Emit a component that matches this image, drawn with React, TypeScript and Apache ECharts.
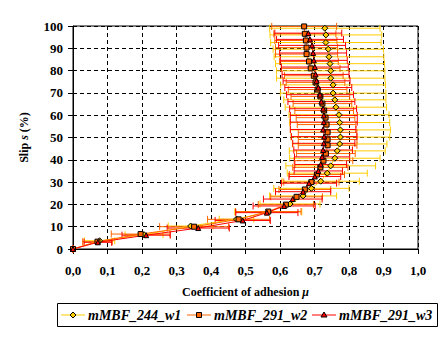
import React, { useEffect, useRef } from 'react';
import * as echarts from 'echarts';

const seriesNames = ['mMBF_244_w1', 'mMBF_291_w2', 'mMBF_291_w3'];
const seriesColors = ['#FFCC00', '#FF6600', '#FF0000'];
const seriesSymbols = ['diamond', 'rect', 'triangle'];

const slipW1 = [0, 3.7, 6.4, 10.3, 13.4, 16.6, 20.2, 23.8, 27.2, 30.4, 34.0, 37.3, 40.7, 44.0, 47.1, 50.2, 53.4, 56.7, 60.2, 63.6, 66.9, 69.9, 73.6, 76.6, 79.9, 83.1, 86.2, 89.6, 92.6, 96.0, 99.0];
const muW1 = [0, 0.077, 0.206, 0.341, 0.474, 0.566, 0.629, 0.667, 0.691, 0.718, 0.737, 0.747, 0.759, 0.766, 0.773, 0.775, 0.775, 0.773, 0.771, 0.762, 0.759, 0.754, 0.754, 0.747, 0.747, 0.745, 0.742, 0.740, 0.733, 0.733, 0.730];
const errW1 = [0, 0.044, 0.055, 0.065, 0.05, 0.097, 0.087, 0.097, 0.109, 0.112, 0.116, 0.13, 0.131, 0.139, 0.137, 0.143, 0.145, 0.145, 0.145, 0.147, 0.148, 0.153, 0.152, 0.157, 0.157, 0.158, 0.159, 0.160, 0.160, 0.162, 0.160];

const slipW2 = [0, 3.3, 6.7, 10, 13.3, 16.8, 19.9, 23.4, 26.7, 30, 33.4, 36.6, 39.6, 42.8, 46.5, 49.1, 52.3, 55.8, 58.9, 62.1, 65.2, 68.4, 71.5, 74.7, 77.7, 81.0, 84.1, 87.4, 90.3, 93.5, 96.5, 99.8];
const muW2 = [0, 0.071, 0.196, 0.351, 0.480, 0.566, 0.617, 0.648, 0.672, 0.691, 0.707, 0.717, 0.726, 0.733, 0.738, 0.738, 0.738, 0.735, 0.732, 0.728, 0.723, 0.717, 0.709, 0.703, 0.698, 0.689, 0.684, 0.677, 0.677, 0.675, 0.672, 0.670];
const errW2 = [0, 0.043, 0.085, 0.10, 0.09, 0.095, 0.08, 0.075, 0.075, 0.08, 0.08, 0.08, 0.085, 0.085, 0.085, 0.085, 0.085, 0.085, 0.085, 0.085, 0.085, 0.085, 0.085, 0.085, 0.085, 0.085, 0.085, 0.09, 0.09, 0.09, 0.09, 0.094];

const slipW3 = [0, 3.0, 6.2, 9.4, 12.8, 16.3, 19.3, 22.4, 25.7, 29.5, 32.5, 35.0, 37.9, 41.3, 44.4, 47.4, 50.4, 53.6, 56.9, 59.9, 62.9, 66.1, 69.2, 72.4, 75.4, 78.3, 81.6, 84.6, 87.9, 91.3, 94.0, 96.8];
const muW3 = [0, 0.072, 0.212, 0.363, 0.492, 0.562, 0.612, 0.637, 0.667, 0.684, 0.701, 0.711, 0.718, 0.722, 0.725, 0.727, 0.728, 0.725, 0.727, 0.727, 0.725, 0.720, 0.716, 0.711, 0.706, 0.703, 0.701, 0.698, 0.696, 0.693, 0.687, 0.682];
const errW3 = [0, 0.04, 0.07, 0.09, 0.08, 0.09, 0.09, 0.085, 0.08, 0.08, 0.075, 0.07, 0.075, 0.08, 0.085, 0.09, 0.095, 0.095, 0.097, 0.097, 0.097, 0.097, 0.097, 0.097, 0.097, 0.097, 0.097, 0.097, 0.097, 0.097, 0.097, 0.097];

const allSlip = [slipW1, slipW2, slipW3];
const allMu = [muW1, muW2, muW3];
const allErr = [errW1, errW2, errW3];

const FONT = '"Liberation Serif", "Times New Roman", serif';

function legendMarker(i: number, cx: number, cy: number): any {
  const style = { fill: seriesColors[i], stroke: '#000', lineWidth: 1 };
  if (i === 0) {
    return { type: 'polygon', shape: { points: [[cx, cy - 3], [cx + 3, cy], [cx, cy + 3], [cx - 3, cy]] }, style };
  }
  if (i === 1) {
    return { type: 'rect', shape: { x: cx - 2.5, y: cy - 2.5, width: 5, height: 5 }, style };
  }
  return { type: 'polygon', shape: { points: [[cx, cy - 3], [cx + 3, cy + 2], [cx - 3, cy + 2]] }, style };
}

export default function App() {
  const ref = useRef<HTMLDivElement>(null);
  useEffect(() => {
    if (!ref.current) return;
    const chart = echarts.init(ref.current, undefined, { renderer: 'svg' });
    const series: any[] = [];
    seriesNames.forEach((name, i) => {
      const color = seriesColors[i];
      series.push({
        type: 'custom',
        name: name + ' error',
        z: 1,
        encode: { x: 0, y: 1 },
        data: allMu[i].map((m, k) => [m, allSlip[i][k], allErr[i][k]]),
        renderItem: (params: any, api: any) => {
          const m = api.value(0), s = api.value(1), e = api.value(2);
          const l = api.coord([m - e, s]);
          const r = api.coord([m + e, s]);
          const h = 3.5;
          const st = { stroke: color, lineWidth: 1 };
          return {
            type: 'group',
            children: [
              { type: 'line', shape: { x1: l[0], y1: l[1], x2: r[0], y2: r[1] }, style: st },
              { type: 'line', shape: { x1: l[0], y1: l[1] - h, x2: l[0], y2: l[1] + h }, style: st },
              { type: 'line', shape: { x1: r[0], y1: r[1] - h, x2: r[0], y2: r[1] + h }, style: st },
            ],
          };
        },
      });
    });
    seriesNames.forEach((name, i) => {
      series.push({
        type: 'line',
        name,
        z: 3,
        data: allMu[i].map((m, k) => [m, allSlip[i][k]]),
        symbol: seriesSymbols[i],
        symbolSize: i === 0 ? 6 : 5,
        showSymbol: true,
        lineStyle: { color: seriesColors[i], width: 1 },
        itemStyle: { color: seriesColors[i], borderColor: '#000', borderWidth: 1 },
        emphasis: { disabled: true },
      });
    });

    // legend box drawn as graphic
    const lx = [61, 187, 312];
    const legendChildren: any[] = [
      { type: 'rect', shape: { x: 57.5, y: 303.5, width: 380, height: 23 }, style: { fill: '#fff', stroke: '#000', lineWidth: 1 } },
    ];
    seriesNames.forEach((name, i) => {
      const x0 = lx[i];
      const cy = 315;
      legendChildren.push({ type: 'line', shape: { x1: x0, y1: cy, x2: x0 + 24, y2: cy }, style: { stroke: seriesColors[i], lineWidth: 1 } });
      legendChildren.push(legendMarker(i, x0 + 12, cy));
      legendChildren.push({
        type: 'text', x: x0 + 27, y: cy,
        style: {
          text: name, fill: '#000', font: `italic bold 14px ${FONT}`,
          textVerticalAlign: 'middle', verticalAlign: 'middle', textAlign: 'left', align: 'left',
        },
      });
    });

    chart.setOption({
      animation: false,
      backgroundColor: '#fff',
      grid: {
        left: 73, top: 26, right: 26, bottom: 99,
        show: true, borderColor: '#000', borderWidth: 1, backgroundColor: 'transparent',
      },
      xAxis: {
        type: 'value', min: 0, max: 1, interval: 0.1,
        name: '{b|Coefficient of adhesion }{i|μ}',
        nameLocation: 'middle', nameGap: 37,
        nameTextStyle: {
          rich: {
            b: { fontFamily: FONT, fontWeight: 'bold', fontSize: 12, color: '#000' },
            i: { fontFamily: FONT, fontWeight: 'bold', fontStyle: 'italic', fontSize: 12, color: '#000' },
          },
        },
        axisLine: { show: true, lineStyle: { color: '#000', width: 1 } },
        axisTick: { show: true, length: 5, lineStyle: { color: '#000' } },
        axisLabel: {
          margin: 15, color: '#000', fontFamily: FONT, fontWeight: 'bold', fontSize: 13,
          formatter: (v: number) => v.toFixed(1).replace('.', ','),
        },
        splitLine: { show: true, lineStyle: { color: '#000', type: [4, 3], width: 1 } },
      },
      yAxis: {
        type: 'value', min: 0, max: 100, interval: 10,
        name: '{b|Slip }{i|s}{b| (%)}',
        nameLocation: 'middle', nameGap: 43, nameRotate: 90,
        nameTextStyle: {
          rich: {
            b: { fontFamily: FONT, fontWeight: 'bold', fontSize: 12, color: '#000' },
            i: { fontFamily: FONT, fontWeight: 'bold', fontStyle: 'italic', fontSize: 12, color: '#000' },
          },
        },
        axisLine: { show: true, lineStyle: { color: '#000', width: 1 } },
        axisTick: { show: true, length: 5, lineStyle: { color: '#000' } },
        axisLabel: { margin: 10, color: '#000', fontFamily: FONT, fontWeight: 'bold', fontSize: 13 },
        splitLine: { show: true, lineStyle: { color: '#000', type: [4, 3], width: 1 } },
      },
      graphic: [{ type: 'group', children: legendChildren }],
      series,
    });
    return () => chart.dispose();
  }, []);
  return <div ref={ref} style={{ position: 'fixed', left: 0, top: 0, width: 444, height: 348 }} />;
}
